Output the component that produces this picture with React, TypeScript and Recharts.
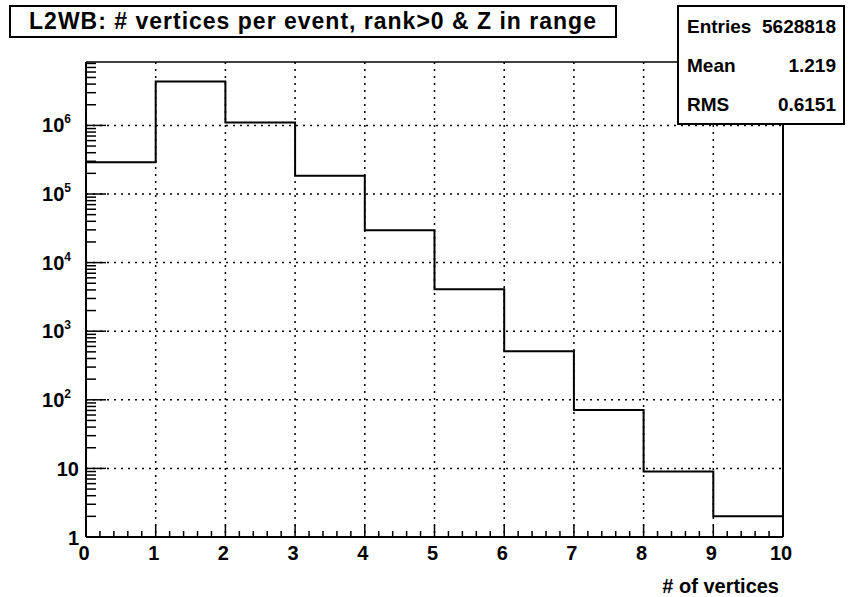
import React from "react";
import { ComposedChart, Line, XAxis, YAxis, CartesianGrid, ReferenceLine, Label } from "recharts";

// histogram: lower bin edges and bin contents
const binLow = [0, 1, 2, 3, 4, 5, 6, 7, 8, 9];
const binWidth = 1;
const counts = [290000, 4380000, 1100000, 185000, 29700, 4100, 510, 71, 9, 2];

const xMajor = [0, 1, 2, 3, 4, 5, 6, 7, 8, 9, 10];
const yDecades = [0, 1, 2, 3, 4, 5, 6];
const yMinorSteps = [2, 3, 4, 5, 6, 7, 8, 9];

const title = "L2WB: # vertices per event, rank>0 & Z in range";
const xTitle = "# of vertices";
const statNames = ["Entries", "Mean", "RMS"];
const statValues = ["5628818", "1.219", "0.6151"];

const Y_MIN = 1;
const Y_MAX = 8.4e6;

const PLOT_L = 86;
const PLOT_B = 537;
const FONT = "'Liberation Sans', Arial, Helvetica, sans-serif";
const TICK_FS = 20;

// step outline: last bin closed at its upper edge
const data = binLow.map((x, i) => ({ x, n: counts[i] }));
data.push({ x: binLow[binLow.length - 1] + binWidth, n: counts[counts.length - 1] });

const xTicks: number[] = [];
for (let i = 0; i < xMajor.length - 1; i++) {
    for (let k = 0; k < 5; k++) xTicks.push(xMajor[i] + k / 5);
}
xTicks.push(xMajor[xMajor.length - 1]);

const yMajor = yDecades.map(d => Math.pow(10, d));
const yTicks: number[] = [];
yDecades.forEach(d => {
    yTicks.push(Math.pow(10, d));
    yMinorSteps.forEach(m => {
        const v = m * Math.pow(10, d);
        if (v < Y_MAX) yTicks.push(v);
    });
});

function YTick(props: any) {
    const { y, payload } = props;
    const v = payload.value as number;
    const d = Math.log10(v);
    const major = Math.abs(d - Math.round(d)) < 1e-6;
    const p = Math.round(d);
    let label = null;
    if (major) {
        if (p < 2) {
            label = (
                <text x={79} y={y + 8} textAnchor="end" fontFamily={FONT} fontWeight="bold" fontSize={TICK_FS} fill="#000">
                    {p === 0 ? "1" : "10"}
                </text>
            );
        } else {
            label = (
                <text x={71} y={y + 7} textAnchor="end" fontFamily={FONT} fontWeight="bold" fontSize={TICK_FS} fill="#000">
                    <tspan>10</tspan>
                    <tspan dy={-9} fontSize={12}>{p}</tspan>
                </text>
            );
        }
    }
    return (
        <g>
            <line x1={PLOT_L} x2={PLOT_L + (major ? 20 : 10)} y1={y} y2={y} stroke="#000" strokeWidth={1.5} />
            {label}
        </g>
    );
}

function XTick(props: any) {
    const { x, payload } = props;
    const v = payload.value as number;
    const major = Math.abs(v - Math.round(v)) < 1e-6;
    return (
        <g>
            <line x1={x} x2={x} y1={PLOT_B} y2={PLOT_B - (major ? 12 : 6)} stroke="#000" strokeWidth={1.5} />
            {major && (
                <text x={x - 2} y={PLOT_B + 23} textAnchor="middle" fontFamily={FONT} fontWeight="bold" fontSize={TICK_FS} fill="#000">
                    {Math.round(v)}
                </text>
            )}
        </g>
    );
}

export default function App() {
    return (
        <div style={{ position: "absolute", left: 0, top: 0, width: 852, height: 597, background: "#fff" }}>
            <ComposedChart width={852} height={597} data={data} margin={{ top: 62, right: 69, bottom: 0, left: 0 }}>
                <CartesianGrid
                    horizontalValues={yMajor}
                    verticalValues={xMajor}
                    stroke="#000"
                    strokeWidth={1.5}
                    strokeDasharray="2 5"
                />
                <XAxis
                    dataKey="x"
                    type="number"
                    domain={[xMajor[0], xMajor[xMajor.length - 1]]}
                    ticks={xTicks}
                    interval={0}
                    tick={<XTick />}
                    tickLine={false}
                    axisLine={{ stroke: "#000", strokeWidth: 2 }}
                    height={60}
                    allowDataOverflow
                >
                    <Label
                        value={xTitle}
                        position="insideBottomRight"
                        offset={4}
                        style={{ fontFamily: FONT, fontWeight: "bold", fontSize: 20, fill: "#000" }}
                    />
                </XAxis>
                <YAxis
                    type="number"
                    scale="log"
                    domain={[Y_MIN, Y_MAX]}
                    ticks={yTicks}
                    interval={0}
                    tick={<YTick />}
                    tickLine={false}
                    axisLine={{ stroke: "#000", strokeWidth: 2 }}
                    width={86}
                    allowDataOverflow
                />
                <ReferenceLine y={Y_MAX} stroke="#000" strokeWidth={1.5} />
                <ReferenceLine x={xMajor[xMajor.length - 1]} stroke="#000" strokeWidth={2} />
                <Line
                    type="stepAfter"
                    dataKey="n"
                    stroke="#000"
                    strokeWidth={2}
                    dot={false}
                    isAnimationActive={false}
                />
            </ComposedChart>

            <div
                style={{
                    position: "absolute", left: 9, top: 5, width: 608, height: 33, boxSizing: "border-box",
                    border: "2px solid #000", background: "#fff", fontFamily: FONT, fontWeight: "bold",
                    fontSize: 23, letterSpacing: 1, lineHeight: "29px", textAlign: "center", whiteSpace: "nowrap",
                }}
            >
                {title}
            </div>

            <div
                style={{
                    position: "absolute", left: 677, top: 5, width: 168, height: 120, boxSizing: "border-box",
                    border: "2px solid #000", background: "#fff", fontFamily: FONT, fontWeight: "bold",
                    fontSize: 19, padding: "7px 7px 0 8px",
                }}
            >
                {statNames.map((name, i) => (
                    <div key={name} style={{ display: "flex", justifyContent: "space-between", height: 39, lineHeight: "26px" }}>
                        <span>{name}</span>
                        <span>{statValues[i]}</span>
                    </div>
                ))}
            </div>
        </div>
    );
}
